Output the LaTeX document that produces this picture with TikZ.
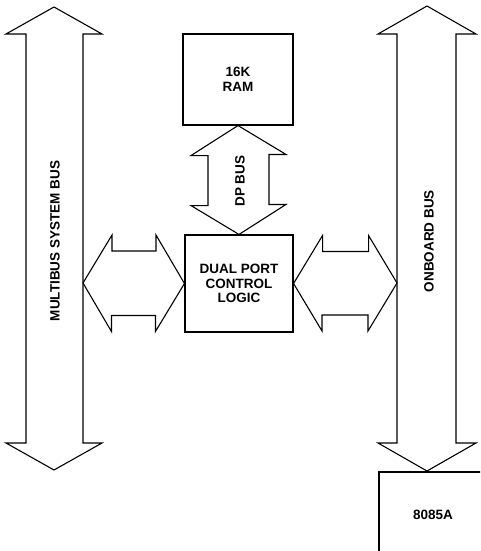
\documentclass[tikz,border=0pt]{standalone}
\usepackage{fontspec}
\setmainfont{Liberation Sans}
\usetikzlibrary{positioning,calc}

\begin{document}
\begin{tikzpicture}[
    x=1pt,y=-1pt,
    box/.style={draw,line width=1.1pt,inner sep=0pt,align=center,font=\lbl},
    bus/.style={draw,line width=1.1pt,line join=miter},
    lbl/.style={font=\lbl,rotate=90}
]
\newcommand{\lbl}{\bfseries\fontsize{13.5}{14.5}\selectfont}
\useasboundingbox (0,0) rectangle (480,551);
\clip (0,0) rectangle (480,551);

% boxes
\node[box,minimum width=110,minimum height=91] (ram) at (238,79.5) {16K\\RAM};
\node[box,minimum width=108,minimum height=97] (dpcl) at (239,283.5) {DUAL PORT\\CONTROL\\LOGIC};
\node[box,minimum width=108,minimum height=86] (cpu) at (433,515) {8085A};

% bus labels
\node[lbl] (mbus) at (55,241) {MULTIBUS SYSTEM BUS};
\node[lbl] (obus) at (429,241) {ONBOARD BUS};
\node[lbl] (dpbus) at (240,181) {DP BUS};

% system buses
\draw[bus] (54,7) -- (102,34) -- (83,34) -- (83,443) -- (102,443) -- (54,470)
    -- (6,443) -- (26,443) -- (26,34) -- (6,34) -- cycle;
\draw[bus] (427,6) -- (476,34) -- (456,34) -- (456,443) -- (476,443) -- (427,471)
    -- (378,443) -- (397,443) -- (397,34) -- (378,34) -- cycle;
\coordinate (mbR) at (83,283);
\coordinate (obL) at (397,283);

% dual port bus
\draw[bus] (ram.south) -- ++(-47,30) -- ++(17,0) -- ++(0,50) -- ++(-17,0) -- (dpcl.north)
    -- ++(47,-30) -- ++(-17,0) -- ++(0,-50) -- ++(17,0) -- cycle;

% links to the buses
\draw[bus] (mbR) -- ++(29,-48) -- ++(0,16) -- ++(44,0) -- ++(0,-16) -- (dpcl.west)
    -- ++(-29,48) -- ++(0,-16) -- ++(-44,0) -- ++(0,16) -- cycle;
\draw[bus] (dpcl.east) -- ++(29,-48) -- ++(0,16) -- ++(46,0) -- ++(0,-16) -- (obL)
    -- ++(-29,48) -- ++(0,-16) -- ++(-46,0) -- ++(0,16) -- cycle;
\end{tikzpicture}
\end{document}
